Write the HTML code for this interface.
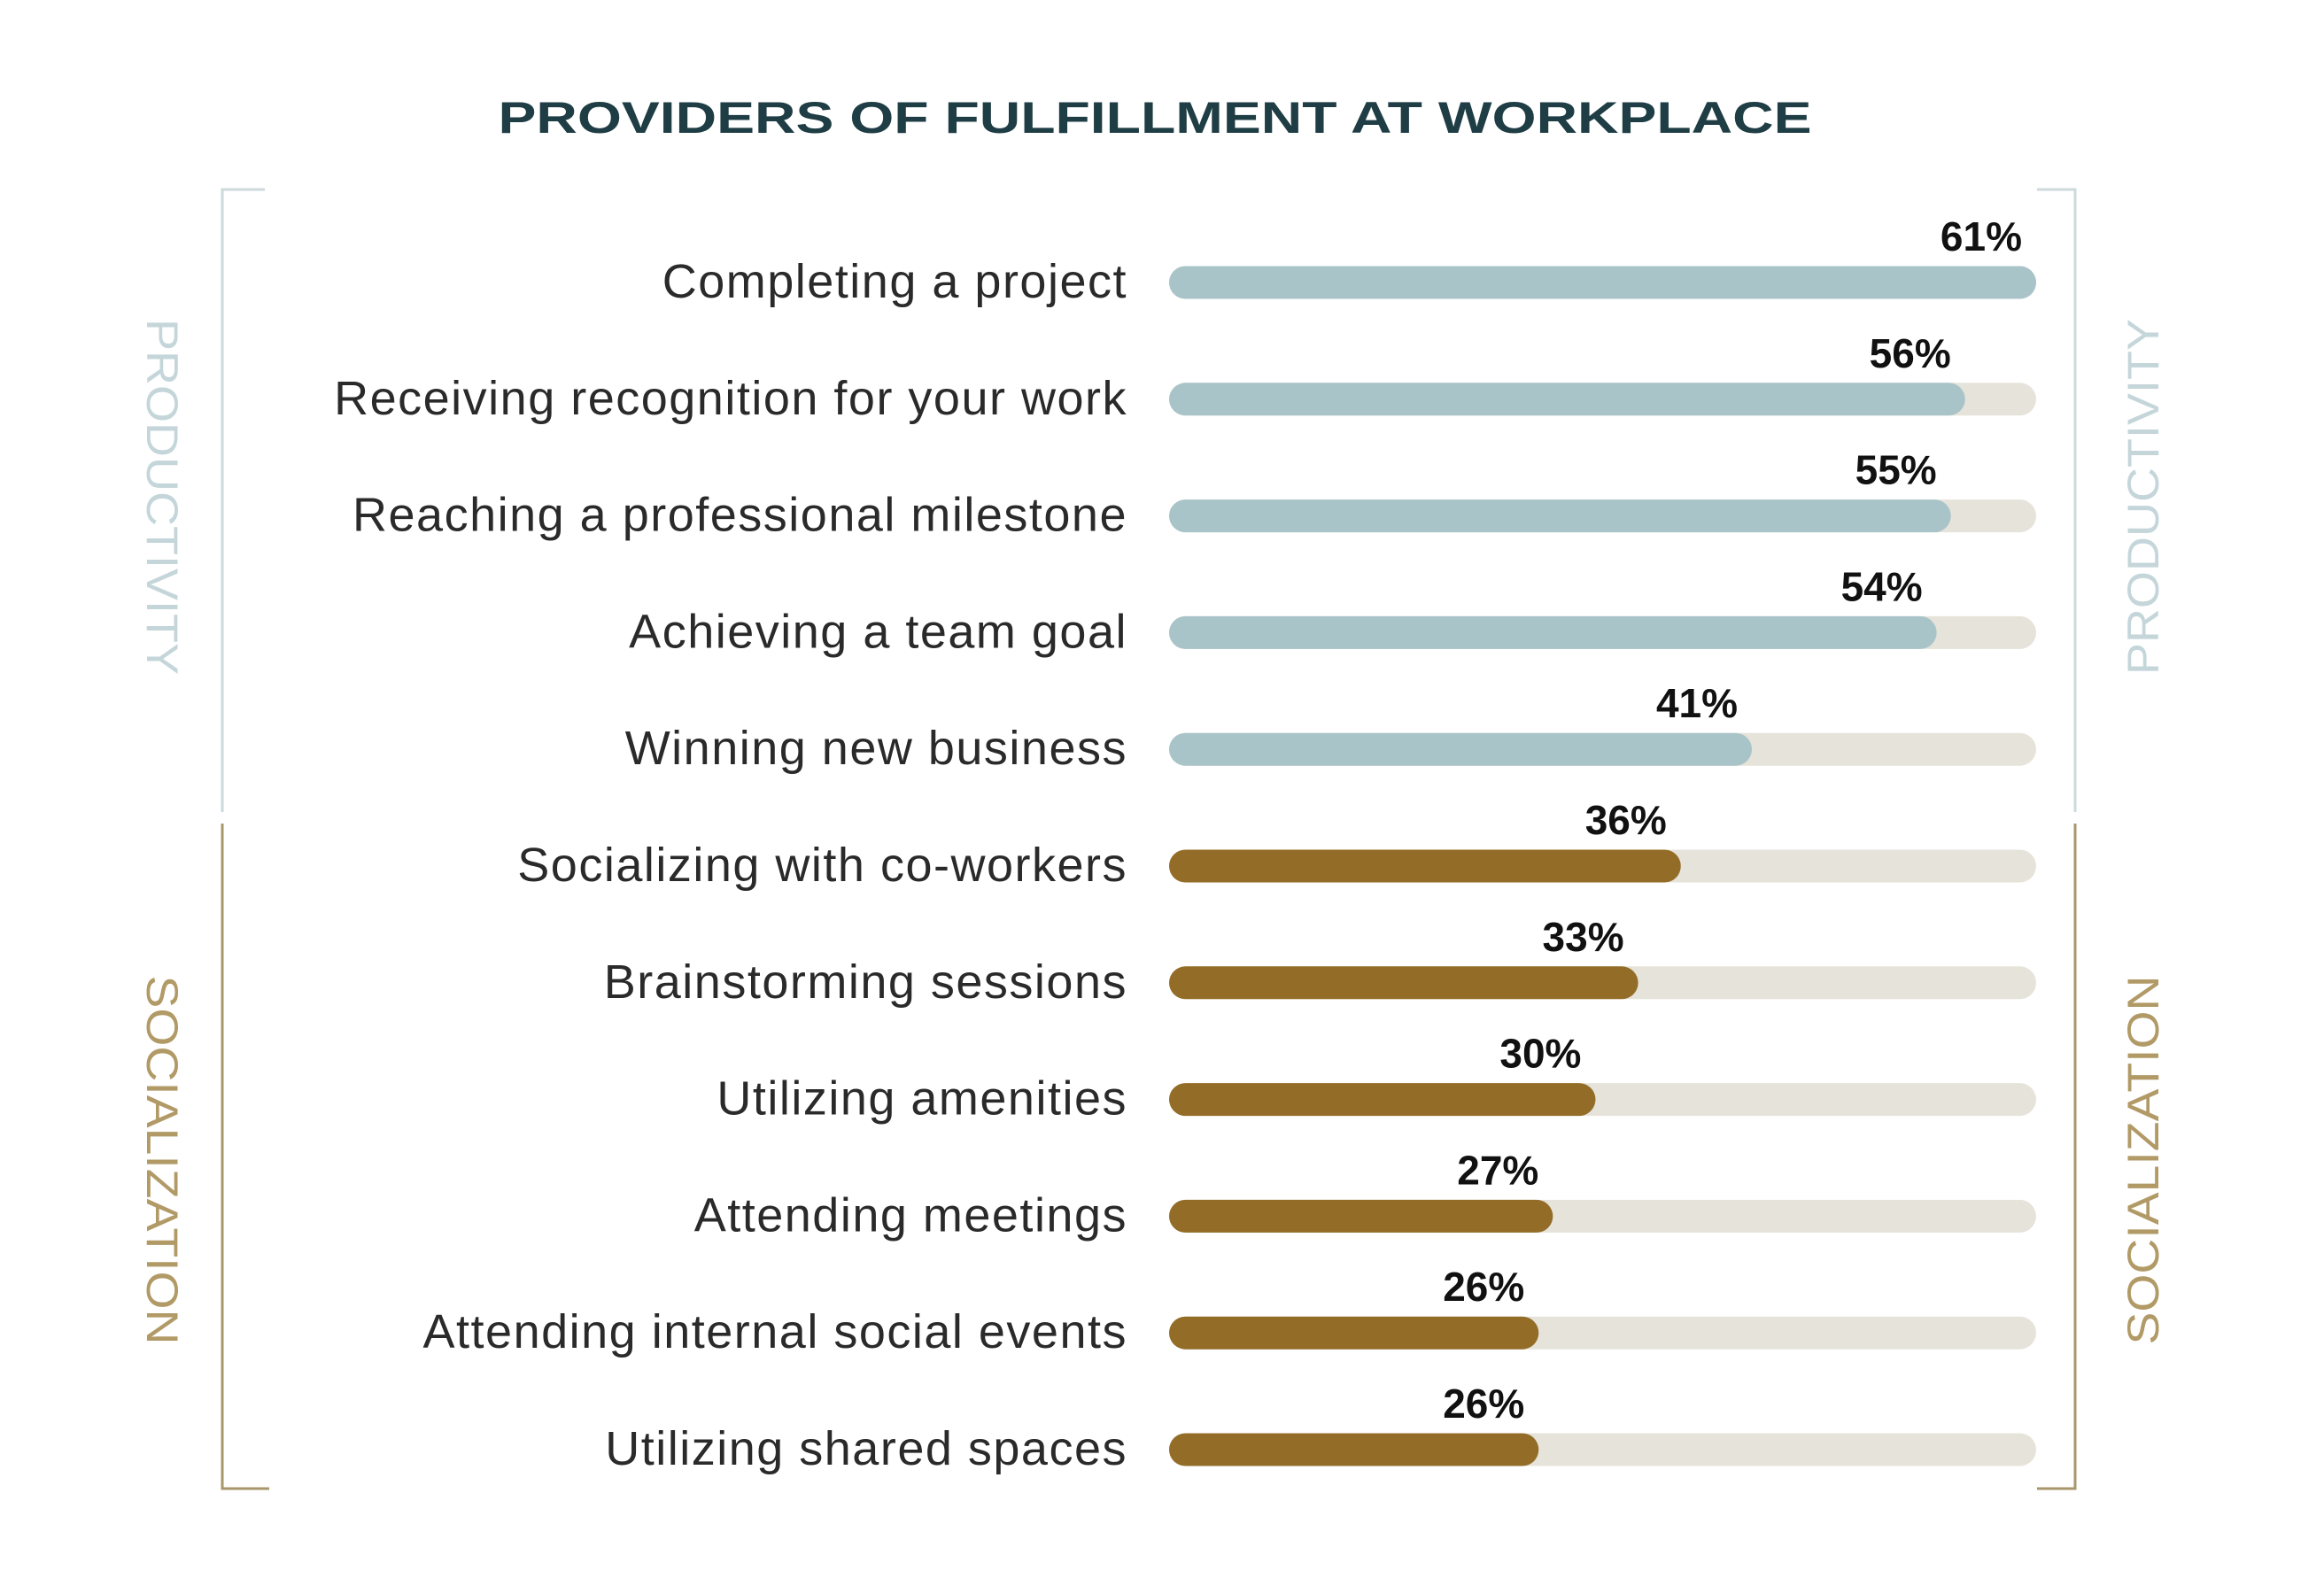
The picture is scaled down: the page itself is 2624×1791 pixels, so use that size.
<!DOCTYPE html>
<html><head><meta charset="utf-8"><style>
html,body{margin:0;padding:0;background:#fff;}
svg{display:block;font-family:"Liberation Sans",sans-serif;}
</style></head><body>
<svg id="chart" width="2624" height="1791" viewBox="0 0 2624 1791">
<text x="1304" y="150" text-anchor="middle" font-size="50" font-weight="bold" fill="#1f3d44" textLength="1483" lengthAdjust="spacingAndGlyphs">PROVIDERS OF FULFILLMENT AT WORKPLACE</text>
<g stroke="#cdd9dc" stroke-width="3" fill="none"><path d="M299 214 H251 V917"/></g>
<g stroke="#a8976b" stroke-width="3" fill="none"><path d="M251 930 V1681 H304"/></g>
<g stroke="#cdd9dc" stroke-width="3" fill="none"><path d="M2300 214 H2343 V917"/></g>
<g stroke="#a8976b" stroke-width="3" fill="none"><path d="M2343 930 V1681 H2300"/></g>
<text transform="translate(166,561) rotate(90)" text-anchor="middle" font-size="50" fill="#c5d6da" textLength="402" lengthAdjust="spacingAndGlyphs">PRODUCTIVITY</text>
<text transform="translate(166,1310) rotate(90)" text-anchor="middle" font-size="50" fill="#b19a66" textLength="417" lengthAdjust="spacingAndGlyphs">SOCIALIZATION</text>
<text transform="translate(2437,561) rotate(-90)" text-anchor="middle" font-size="50" fill="#c5d6da" textLength="402" lengthAdjust="spacingAndGlyphs">PRODUCTIVITY</text>
<text transform="translate(2437,1310) rotate(-90)" text-anchor="middle" font-size="50" fill="#b19a66" textLength="417" lengthAdjust="spacingAndGlyphs">SOCIALIZATION</text>
<g id="bars"></g>
</svg>
<script>
const categories = ["Completing a project","Receiving recognition for your work","Reaching a professional milestone","Achieving a team goal","Winning new business","Socializing with co-workers","Brainstorming sessions","Utilizing amenities","Attending meetings","Attending internal social events","Utilizing shared spaces"];
const values = [61,56,55,54,41,36,33,30,27,26,26];
const groups = ["productivity","productivity","productivity","productivity","productivity","socialization","socialization","socialization","socialization","socialization","socialization"];
const valueLabels = ["61%","56%","55%","54%","41%","36%","33%","30%","27%","26%","26%"];

const NS="http://www.w3.org/2000/svg";
const x0=1320, x1=2299, maxV=61, barH=37;
function xScale(v){return x0+(x1-x0)*v/maxV;}
function yScale(i){return 319+i*131.8;}
const colors={productivity:"#a9c4c8",socialization:"#936d27"};
const g=document.getElementById("bars");
function mk(tag,attrs){const e=document.createElementNS(NS,tag);for(const k in attrs)e.setAttribute(k,attrs[k]);return e;}
categories.forEach((c,i)=>{
  const cy=yScale(i);
  const lab=mk("text",{x:1273,y:cy+17,"text-anchor":"end","font-size":"54",fill:"#2a2a2a","letter-spacing":"1.5"});
  
  
  lab.textContent=c; g.appendChild(lab);
  const tr=mk("rect",{x:x0,y:cy-barH/2,width:x1-x0,height:barH,rx:barH/2,fill:"#e6e3da"});
  
  
  g.appendChild(tr);
  const w=xScale(values[i])-x0;
  const b=mk("rect",{x:x0,y:cy-barH/2,width:w,height:barH,rx:barH/2,fill:colors[groups[i]]});
  
  
  g.appendChild(b);
  const v=mk("text",{x:xScale(values[i])-16,y:cy-36,"text-anchor":"end","font-size":"46","font-weight":"bold",fill:"#111"});
  
  
  v.textContent=valueLabels[i]; g.appendChild(v);
});
</script>
</body></html>
